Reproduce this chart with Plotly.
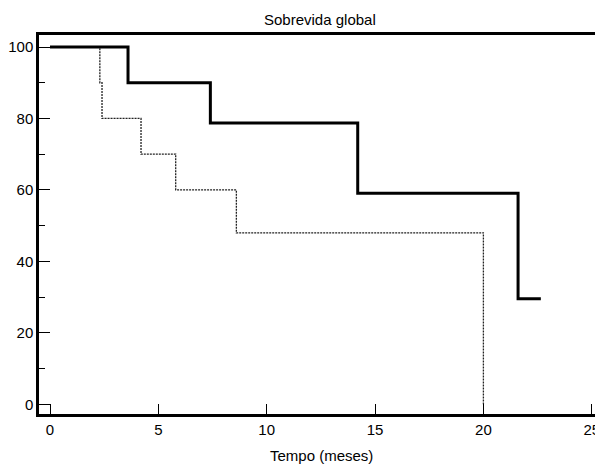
import plotly.graph_objects as go

# Kaplan-Meier curves (time in months, survival in %)
t_thick = [0, 3.6, 7.4, 14.2, 21.6, 22.65]
s_thick = [100, 90, 78.75, 59.06, 29.53, 29.53]

t_thin = [0, 2.3, 2.4, 4.2, 5.8, 8.6, 20.0]
s_thin = [100, 90, 80, 70, 60, 48, 0]

x_ticks = [0, 5, 10, 15, 20, 25]
y_ticks = [0, 20, 40, 60, 80, 100]

FONT = "Liberation Sans, Arial, sans-serif"

fig = go.Figure()
fig.add_trace(go.Scatter(x=t_thin, y=s_thin, mode="lines", line_shape="hv",
                         line=dict(color="#222222", width=1.3, dash="2px,1px"),
                         showlegend=False, hoverinfo="skip"))
fig.add_trace(go.Scatter(x=t_thick, y=s_thick, mode="lines", line_shape="hv",
                         line=dict(color="black", width=3),
                         showlegend=False, hoverinfo="skip"))

fig.update_layout(
    width=595, height=465,
    margin=dict(l=39, r=0, t=35, b=51, autoexpand=False),
    paper_bgcolor="white", plot_bgcolor="white",
    font=dict(family=FONT, size=15, color="black"),
    showlegend=False,
    annotations=[
        dict(text="Sobrevida global", xref="paper", yref="paper",
             x=0.5054, y=1 + 16 / 379, xanchor="center", yanchor="middle",
             showarrow=False, font=dict(size=15)),
        dict(text="Tempo (meses)", xref="paper", yref="paper",
             x=0.508, y=-(455 - 414) / 379, xanchor="center", yanchor="middle",
             showarrow=False, font=dict(size=15)),
    ],
)
fig.update_xaxes(
    range=[-0.508, 25.15], tickvals=x_ticks, ticktext=[str(v) for v in x_ticks],
    ticks="inside", ticklen=10, tickwidth=1.3, tickcolor="black",
    ticklabeloverflow="allow", automargin=False,
    showline=True, linewidth=2.5, linecolor="black", mirror=True,
    showgrid=False, zeroline=False, tickfont=dict(size=15),
)
fig.update_yaxes(
    range=[-2.71, 103.36], tickvals=y_ticks, ticktext=[str(v) for v in y_ticks],
    ticks="inside", ticklen=11, tickwidth=1.3, tickcolor="black",
    minor=dict(tickvals=[10, 30, 50, 70, 90], ticks="inside", ticklen=6,
               tickwidth=1.3, tickcolor="black", showgrid=False),
    automargin=False,
    showline=True, linewidth=2.5, linecolor="black", mirror=False,
    showgrid=False, zeroline=False, tickfont=dict(size=15),
)

fig.write_html("out.html")
